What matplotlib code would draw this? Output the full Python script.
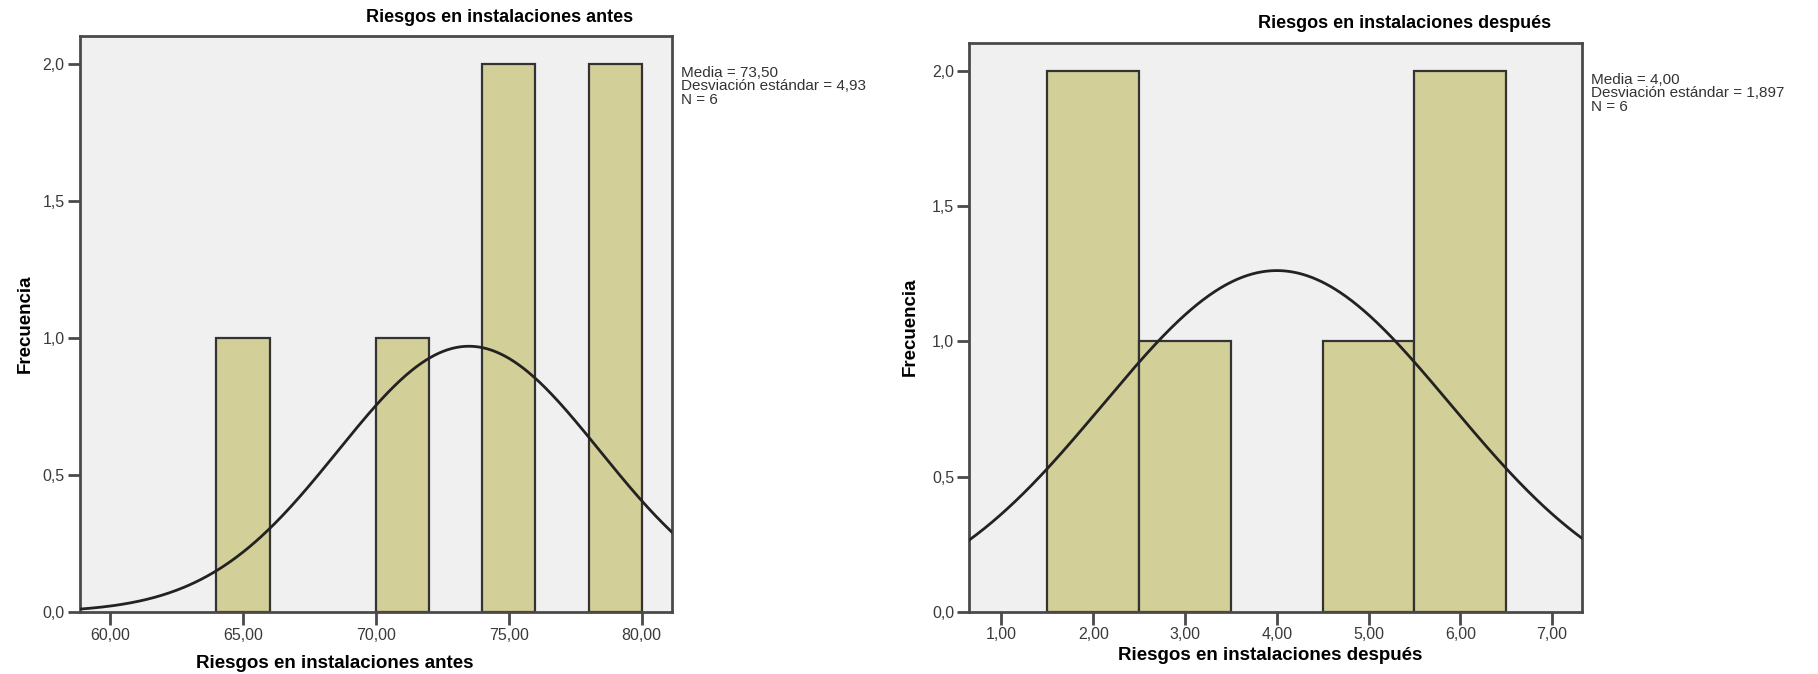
import numpy as np
import matplotlib
matplotlib.use("Agg")
import matplotlib.pyplot as plt

plt.rcParams['font.family'] = ['Liberation Sans', 'DejaVu Sans']

# --- data ---
antes_edges = [64, 66, 70, 72, 74, 76, 78, 80]      # bar left/right pairs
antes_counts = [1, 1, 2, 2]
antes_mean, antes_sd, antes_n = 73.50, 4.93, 6
antes_xticks = [60, 65, 70, 75, 80]

despues_edges = [1.5, 2.5, 2.5, 3.5, 4.5, 5.5, 5.5, 6.5]
despues_counts = [2, 1, 1, 2]
despues_mean, despues_sd, despues_n = 4.00, 1.897, 6
despues_xticks = [1, 2, 3, 4, 5, 6, 7]

yticks = [0, 0.5, 1.0, 1.5, 2.0]
title_antes = "Riesgos en instalaciones antes"
title_despues = "Riesgos en instalaciones después"

bar_col = "#d3cf98"
bg_col = "#f0f0f0"
frame_col = "#4a4a4a"


def fmt(v, d):
    return f"{v:.{d}f}".replace(".", ",")


def panel(ax, edges, counts, mean, sd, n, xticks, xlim, ylim):
    ax.set_facecolor(bg_col)
    lefts = edges[0::2]
    rights = edges[1::2]
    widths = [r - l for l, r in zip(lefts, rights)]
    ax.bar(lefts, counts, width=widths, align="edge", color=bar_col,
           edgecolor="#333333", linewidth=1.6, zorder=2)
    # normal curve from the stated mean / sd, scaled to counts
    bw = widths[0]
    xs = np.linspace(xlim[0], xlim[1], 400)
    ys = n * bw / (sd * np.sqrt(2 * np.pi)) * np.exp(-0.5 * ((xs - mean) / sd) ** 2)
    ax.plot(xs, ys, color="#222222", lw=2.0, zorder=3)
    ax.set_xlim(*xlim)
    ax.set_ylim(*ylim)
    ax.set_xticks(xticks)
    ax.set_xticklabels([fmt(t, 2) for t in xticks])
    ax.set_yticks(yticks)
    ax.set_yticklabels([fmt(t, 1) for t in yticks])
    ax.tick_params(axis="both", length=9, width=2, color=frame_col,
                   labelsize=11.5, labelcolor="#3a3a3a", pad=2)
    for s in ax.spines.values():
        s.set_color(frame_col)
        s.set_linewidth(2)


fig = plt.figure(figsize=(18.18, 6.74), dpi=100)

ax1 = fig.add_axes([0.0440, 0.0915, 0.3255, 0.855])
panel(ax1, antes_edges, antes_counts, antes_mean, antes_sd, antes_n,
      antes_xticks, (58.87, 81.13), (0, 2.103))

ax2 = fig.add_axes([0.5332, 0.0925, 0.3372, 0.8442])
panel(ax2, despues_edges, despues_counts, despues_mean, despues_sd, despues_n,
      despues_xticks, (0.65, 7.33), (0, 2.105))

# titles / labels
fig.text(500 / 1818, 1 - 17 / 674, title_antes, ha="center", va="center",
         fontsize=13, fontweight="bold")
fig.text(1405 / 1818, 1 - 24 / 674, title_despues, ha="center", va="center",
         fontsize=13, fontweight="bold")
fig.text(335 / 1818, 1 - 664 / 674, title_antes, ha="center", va="center",
         fontsize=13.5, fontweight="bold")
fig.text(1270 / 1818, 1 - 656 / 674, title_despues, ha="center", va="center",
         fontsize=13.5, fontweight="bold")
fig.text(25 / 1818, 1 - 324 / 674, "Frecuencia", rotation=90, ha="center",
         va="center", fontsize=13.5, fontweight="bold")
fig.text(910 / 1818, 1 - 327 / 674, "Frecuencia", rotation=90, ha="center",
         va="center", fontsize=13.5, fontweight="bold")

# stats
fig.text(681 / 1818, 1 - 66 / 674,
         f"Media = {fmt(antes_mean, 2)}\nDesviación estándar = {fmt(antes_sd, 2)}\nN = {antes_n}",
         ha="left", va="top", fontsize=11, color="#333333", linespacing=0.95)
fig.text(1591 / 1818, 1 - 73 / 674,
         f"Media = {fmt(despues_mean, 2)}\nDesviación estándar = {fmt(despues_sd, 3)}\nN = {despues_n}",
         ha="left", va="top", fontsize=11, color="#333333", linespacing=0.95)

fig.savefig("out.png", dpi=100, facecolor="white")
